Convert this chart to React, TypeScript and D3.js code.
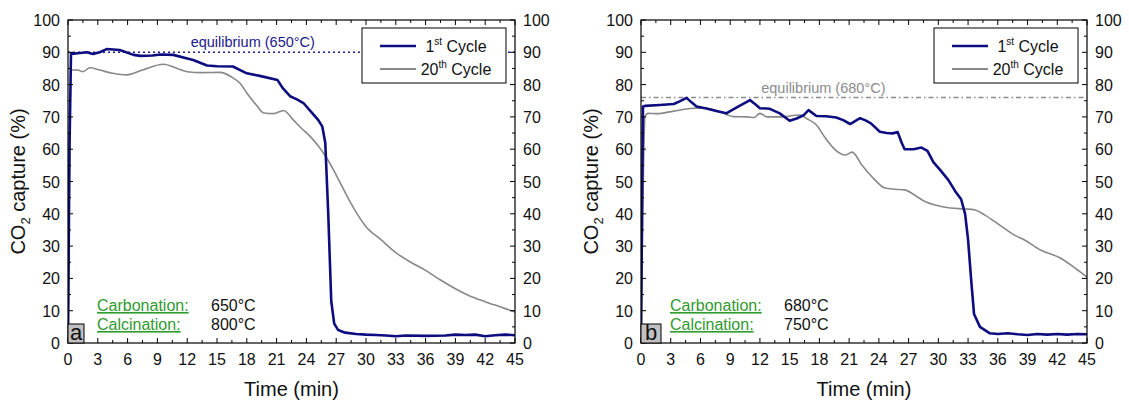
import React from "react";
import * as d3 from "d3";

// ---------- data ----------
const xTicks = [0, 3, 6, 9, 12, 15, 18, 21, 24, 27, 30, 33, 36, 39, 42, 45];
const yTicks = [0, 10, 20, 30, 40, 50, 60, 70, 80, 90, 100];

const aTime1 = [0, 0.15, 0.3, 1, 1.9, 2.5, 3.2, 3.9, 5.2, 6.6, 7.3, 8.5, 9.3, 10.6, 12, 12.6, 14, 15, 16.6, 18, 19.3, 21.1, 21.6, 22.4, 23, 23.7, 24.5, 25.2, 25.6, 25.9, 26.2, 26.5, 26.8, 27.2, 27.9, 29, 30, 31, 32, 33, 34, 36, 38, 39, 40, 41, 42, 43, 44, 45];
const aCycle1 = [0, 60, 89.5, 89.7, 90, 89.5, 90, 91, 90.7, 89.2, 88.9, 89.0, 89.3, 89.2, 88.1, 87.6, 85.9, 85.7, 85.6, 83.5, 82.7, 81.4, 79, 76.3, 75.5, 74.3, 71.5, 69, 67, 62, 40, 13, 6, 4, 3.2, 2.8, 2.6, 2.5, 2.3, 2.1, 2.3, 2.2, 2.3, 2.6, 2.5, 2.6, 2.1, 2.4, 2.6, 2.4];
const aTime20 = [0, 0.15, 0.37, 1, 1.5, 2.2, 3.2, 4.5, 5.9, 7.5, 9.6, 11, 12, 13.5, 15.3, 16.6, 17.3, 18, 19, 19.7, 20.7, 21.7, 22.7, 23.5, 24.4, 25.2, 26, 27, 28, 29, 30, 31.5, 33, 34.5, 36, 37.5, 39, 40.5, 42, 43.5, 45];
const aCycle20 = [0, 55, 84.5, 84.5, 84, 85.2, 84.5, 83.5, 83, 84.5, 86.3, 85, 84, 83.7, 83.8, 82.1, 80.5, 77.4, 73.5, 71.2, 71, 72, 69, 66.5, 63.9, 61, 57.5, 52, 46, 40.5, 36, 32, 28, 25, 22.5, 19.5, 16.8, 14.5, 12.8, 11.2, 9.6];

const bTime1 = [0, 0.1, 0.2, 0.4, 1.9, 3.3, 3.9, 4.6, 5.1, 5.6, 6.6, 7.6, 8.6, 9.8, 11, 11.5, 12, 13, 14, 15, 15.7, 16.4, 16.9, 17.7, 18.7, 19.7, 20.4, 21.1, 22.1, 22.6, 23.2, 24.1, 24.8, 25.4, 25.9, 26.3, 26.6, 27.5, 28.3, 28.9, 29.5, 30.2, 31, 31.7, 32.3, 32.7, 33, 33.3, 33.6, 34.2, 35.2, 36, 37, 38, 39, 40, 41, 42, 43, 44, 45];
const bCycle1 = [0, 40, 73.2, 73.4, 73.7, 74, 74.8, 75.9, 74.5, 73.2, 72.6, 71.8, 71.1, 73.2, 75.2, 74, 72.7, 72.5, 71.1, 68.8, 69.5, 70.5, 72.1, 70.3, 70.2, 69.8, 69, 67.8, 69.6, 69.0, 68, 65.4, 65.0, 64.9, 65.3, 62, 60, 60, 60.5, 59.5, 56, 53.5, 50.5, 47, 44.5, 40, 32, 20, 9, 5, 3, 2.8, 3, 2.7, 2.5, 2.8, 2.6, 2.8, 2.6, 2.8, 2.7];
const bTime20 = [0, 0.2, 0.4, 0.7, 1.6, 3.3, 5.3, 6.6, 8, 9.3, 10.7, 11.4, 12, 12.7, 14, 16, 16.7, 17.7, 18.5, 19.6, 20.6, 21.3, 22.3, 23.6, 24.6, 25.6, 26.6, 27.6, 28.7, 29.7, 31.2, 32.7, 33.7, 34.7, 36.2, 37.7, 38.7, 40.3, 42.3, 43.8, 45];
const bCycle20 = [0, 45, 70, 71.1, 71, 71.8, 72.7, 72.7, 71.6, 70.1, 70, 69.8, 71.1, 70, 70, 70.6, 69.5, 67.5, 63.9, 59.8, 58.2, 59.1, 55, 50.5, 48, 47.6, 47.4, 45.8, 43.7, 42.7, 41.8, 41.5, 41.2, 39.6, 36.5, 33.4, 31.9, 28.8, 26.3, 23.2, 20.4];

const legendLabels = [["1", "st", " Cycle"], ["20", "th", " Cycle"]];

const panels = [
  {
    left: 68, right: 515, letter: "a",
    t1: aTime1, v1: aCycle1, t20: aTime20, v20: aCycle20,
    eq: 90, eqLabel: "equilibrium (650°C)", eqColor: "#1a1a8c", eqDash: "2,3",
    carb: "650°C", calc: "800°C",
  },
  {
    left: 641, right: 1087, letter: "b",
    t1: bTime1, v1: bCycle1, t20: bTime20, v20: bCycle20,
    eq: 76, eqLabel: "equilibrium (680°C)", eqColor: "#8c8c8c", eqDash: "5,3,1.5,3",
    carb: "680°C", calc: "750°C",
  },
];

const TOP = 20;
const BOTTOM = 343;
const NAVY = "#0d0d80";
const GRAY = "#888888";
const GREEN = "#2f9a2f";
const FONT = "Liberation Sans, Arial, sans-serif";

function Panel({ p }: { p: any }) {
  const x = d3.scaleLinear().domain([0, 45]).range([p.left, p.right]);
  const y = d3.scaleLinear().domain([0, 100]).range([BOTTOM, TOP]);
  const line = d3.line<number>().x((d: any) => x(d[0])).y((d: any) => y(d[1]));
  const smooth = d3.line<number>().x((d: any) => x(d[0])).y((d: any) => y(d[1])).curve(d3.curveMonotoneX);
  const s1 = p.t1.map((t: number, i: number) => [t, p.v1[i]]);
  const s20 = p.t20.map((t: number, i: number) => [t, p.v20[i]]);
  const xMinor = d3.range(0, 45.01, 1.5).filter((v) => v % 3 !== 0);
  const yMinor = d3.range(5, 100, 10);
  const clipId = "clip-" + p.letter;
  const legX = p.right - 153;
  const midX = (p.left + p.right) / 2;
  return (
    <g fontFamily={FONT}>
      <defs>
        <clipPath id={clipId}>
          <rect x={p.left} y={TOP} width={p.right - p.left} height={BOTTOM - TOP} />
        </clipPath>
      </defs>
      {/* equilibrium */}
      <line x1={p.left} x2={p.right} y1={y(p.eq)} y2={y(p.eq)} stroke={p.eqColor} strokeWidth={1.5} strokeDasharray={p.eqDash} />
      <text x={x(p.letter === "a" ? 18.6 : 18.4)} y={y(p.eq) - 5} textAnchor="middle" fontSize={14.5} fill={p.eqColor}>{p.eqLabel}</text>
      {/* curves */}
      <g clipPath={`url(#${clipId})`}>
        <path d={smooth(s20 as any) || ""} fill="none" stroke={GRAY} strokeWidth={1.6} />
        <path d={line(s1 as any) || ""} fill="none" stroke={NAVY} strokeWidth={2.6} strokeLinejoin="round" />
      </g>
      {/* frame */}
      <rect x={p.left} y={TOP} width={p.right - p.left} height={BOTTOM - TOP} fill="none" stroke="#000" strokeWidth={1.2} />
      {/* x ticks */}
      {xTicks.map((t) => (
        <g key={"xt" + t}>
          <line x1={x(t)} x2={x(t)} y1={BOTTOM} y2={BOTTOM - 5} stroke="#000" />
          <line x1={x(t)} x2={x(t)} y1={TOP} y2={TOP + 5} stroke="#000" />
          <text x={x(t)} y={365} textAnchor="middle" fontSize={16} fill="#111">{t}</text>
        </g>
      ))}
      {xMinor.map((t) => (
        <g key={"xm" + t}>
          <line x1={x(t)} x2={x(t)} y1={BOTTOM} y2={BOTTOM - 3} stroke="#000" />
          <line x1={x(t)} x2={x(t)} y1={TOP} y2={TOP + 3} stroke="#000" />
        </g>
      ))}
      {/* y ticks */}
      {yTicks.map((v) => (
        <g key={"yt" + v}>
          <line x1={p.left} x2={p.left + 5} y1={y(v)} y2={y(v)} stroke="#000" />
          <line x1={p.right} x2={p.right - 5} y1={y(v)} y2={y(v)} stroke="#000" />
          <text x={p.left - 8} y={y(v) + 6} textAnchor="end" fontSize={16} fill="#111">{v}</text>
          <text x={p.right + 8} y={y(v) + 6} textAnchor="start" fontSize={16} fill="#111">{v}</text>
        </g>
      ))}
      {yMinor.map((v) => (
        <g key={"ym" + v}>
          <line x1={p.left} x2={p.left + 3} y1={y(v)} y2={y(v)} stroke="#000" />
          <line x1={p.right} x2={p.right - 3} y1={y(v)} y2={y(v)} stroke="#000" />
        </g>
      ))}
      {/* axis titles */}
      <text x={midX} y={396} textAnchor="middle" fontSize={20} fill="#111">Time (min)</text>
      <text transform={`translate(${p.left - 43},${(TOP + BOTTOM) / 2}) rotate(-90)`} textAnchor="middle" fontSize={20} fill="#111">
        CO<tspan fontSize={13} dy={5}>2</tspan><tspan dy={-5}> capture (%)</tspan>
      </text>
      {/* legend */}
      <rect x={legX} y={28} width={144} height={55} fill="#fff" stroke="#000" strokeWidth={1} />
      {legendLabels.map((lab, i) => (
        <g key={"lg" + i}>
          <line x1={legX + 18} x2={legX + 54} y1={46 + i * 23} y2={46 + i * 23} stroke={i === 0 ? NAVY : GRAY} strokeWidth={i === 0 ? 2.6 : 1.8} />
          <text x={legX + 94} y={52 + i * 23} textAnchor="middle" fontSize={16} fill="#111">
            {lab[0]}<tspan fontSize={10} dy={-7}>{lab[1]}</tspan><tspan dy={7}>{lab[2]}</tspan>
          </text>
        </g>
      ))}
      {/* annotations */}
      <text x={p.left + 29} y={311} fontSize={16} fill={GREEN} textDecoration="underline">Carbonation:</text>
      <text x={p.left + 143} y={311} fontSize={16} fill="#111">{p.carb}</text>
      <text x={p.left + 29} y={330} fontSize={16} fill={GREEN} textDecoration="underline">Calcination:</text>
      <text x={p.left + 143} y={330} fontSize={16} fill="#111">{p.calc}</text>
      {/* panel letter */}
      <rect x={p.left} y={324} width={p.letter === "a" ? 16 : 20} height={19} fill="#c0c0c0" stroke="#000" strokeWidth={1} />
      <text x={p.left + (p.letter === "a" ? 8 : 10)} y={340} textAnchor="middle" fontSize={22} fill="#111">{p.letter}</text>
    </g>
  );
}

export default function App() {
  return (
    <svg width={1129} height={405} style={{ position: "absolute", left: 0, top: 0, background: "#fff" }}>
      <rect width={1129} height={405} fill="#fff" />
      {panels.map((p) => (
        <Panel key={p.letter} p={p} />
      ))}
    </svg>
  );
}
